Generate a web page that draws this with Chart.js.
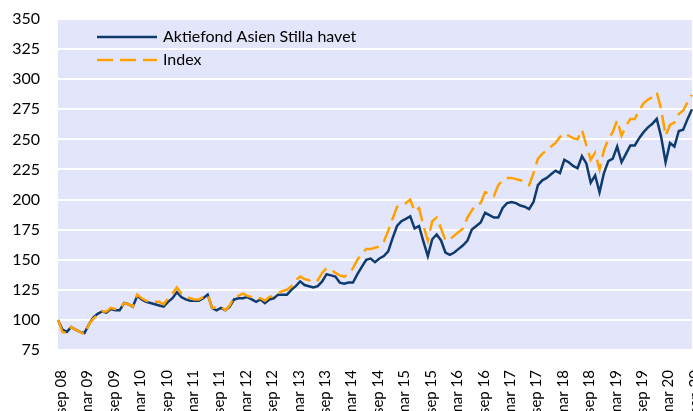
<!DOCTYPE html>
<html>
<head>
<meta charset="utf-8">
<script src="https://cdn.jsdelivr.net/npm/chart.js@4/dist/chart.umd.min.js"></script>
<style>
  body { margin: 0; background: #fff; }
  #wrap { width: 693px; height: 411px; }
</style>
</head>
<body>
<div id="wrap"><canvas id="fundChart" width="693" height="411"></canvas></div>
<script>
const monthNames = ['jan', 'feb', 'mar', 'apr', 'maj', 'jun', 'jul', 'aug', 'sep', 'okt', 'nov', 'dec'];
const firstYear = 2008;
const firstMonth = 8; // sep
const seriesNames = ['Aktiefond Asien Stilla havet', 'Index'];

const fund = [
  100, 92, 90, 94, 92, 90, 89, 96, 102, 105, 107, 106,
  109, 108, 108, 114, 113, 111, 120, 117, 115, 114, 113, 112,
  111, 115, 118, 123, 119, 117, 116, 116, 116, 118, 121, 110,
  108, 110, 108, 111, 117, 118, 118, 119, 117, 115, 117, 114,
  117, 118, 121, 121, 121, 125, 128, 132, 129, 128, 127, 128,
  132, 138, 137, 136, 131, 130, 131, 131, 138, 144, 150, 151,
  148, 151, 153, 157, 168, 178, 182, 184, 186, 176, 178, 165,
  153, 167, 171, 166, 156, 154, 156, 159, 162, 166, 175, 178,
  181, 189, 187, 185, 185, 193, 197, 198, 197, 195, 194, 192,
  198, 212, 216, 218, 221, 224, 222, 233, 231, 228, 226, 236,
  230, 214, 220, 206, 222, 232, 234, 244, 231, 238, 245, 245,
  251, 256, 260, 263, 267, 252, 231, 247, 244, 257, 258, 267,
  275
];

const index = [
  100, 90, 89, 94, 92, 90, 88, 96, 101, 104, 107, 107,
  110, 109, 109, 114, 113, 111, 121, 118, 116, 115, 115, 115,
  113, 118, 122, 127, 122, 120, 118, 117, 117, 119, 121, 110,
  110, 111, 108, 112, 119, 120, 122, 120, 119, 118, 118, 116,
  119, 120, 122, 124, 125, 128, 133, 136, 134, 133, 131, 133,
  139, 143, 142, 139, 137, 136, 138, 143, 150, 155, 159, 159,
  160, 161, 165, 174, 184, 194, 196, 197, 200, 190, 193, 178,
  166, 182, 185, 176, 166, 167, 170, 173, 176, 185, 191, 196,
  197, 206, 205, 203, 212, 216, 218, 218, 217, 216, 215, 212,
  222, 234, 238, 241, 244, 247, 252, 255, 253, 251, 250, 258,
  245, 233, 239, 225, 241, 250, 256, 266, 253, 261, 267, 267,
  274, 280, 283, 285, 289, 275, 253, 262, 264, 271, 274, 281,
  287
];

const yTicks = { min: 75, max: 350, step: 25 };

// month labels like "sep 08"
const categories = fund.map((_, i) => {
  const m = (firstMonth + i) % 12;
  const y = firstYear + Math.floor((firstMonth + i) / 12);
  return monthNames[m] + ' ' + String(y % 100).padStart(2, '0');
});

const fontFamily = 'Lato, "Open Sans", sans-serif';

const plotBackground = {
  id: 'plotBackground',
  beforeDraw(chart) {
    const { ctx, chartArea } = chart;
    ctx.save();
    ctx.fillStyle = '#E3E5FA';
    ctx.fillRect(chartArea.left, chartArea.top, chartArea.right - chartArea.left, chartArea.bottom - chartArea.top);
    ctx.restore();
  }
};

// legend sits inside the plot, top left
const innerLegend = {
  id: 'innerLegend',
  afterDraw(chart) {
    const { ctx, chartArea } = chart;
    const x0 = chartArea.left + 39;
    let y = chartArea.top + 18;
    ctx.save();
    chart.data.datasets.forEach(ds => {
      ctx.beginPath();
      ctx.strokeStyle = ds.borderColor;
      ctx.lineWidth = ds.borderWidth;
      ctx.setLineDash(ds.borderDash || []);
      ctx.moveTo(x0, y);
      ctx.lineTo(x0 + 60, y);
      ctx.stroke();
      ctx.setLineDash([]);
      ctx.fillStyle = '#000';
      ctx.font = '16px ' + fontFamily;
      ctx.textBaseline = 'middle';
      ctx.fillText(ds.label, x0 + 66, y);
      y += 23;
    });
    ctx.restore();
  }
};

const ctx = document.getElementById('fundChart').getContext('2d');
new Chart(ctx, {
  type: 'line',
  data: {
    labels: categories,
    datasets: [
      {
        label: seriesNames[0],
        data: fund,
        borderColor: '#0F3B6F',
        borderWidth: 2.5,
        pointRadius: 0,
        tension: 0,
        order: 1
      },
      {
        label: seriesNames[1],
        data: index,
        borderColor: '#FFA200',
        borderWidth: 2.5,
        borderDash: [16, 7],
        pointRadius: 0,
        tension: 0,
        order: 0
      }
    ]
  },
  options: {
    responsive: false,
    animation: false,
    layout: { padding: { top: 19, right: 1, left: 0, bottom: 0 } },
    plugins: {
      legend: { display: false },
      tooltip: { enabled: false }
    },
    scales: {
      x: {
        grid: { display: false },
        border: { display: false },
        afterFit(scale) {
          scale.height = 61;
          scale.paddingLeft = 0;
          scale.paddingRight = 0;
        },
        ticks: {
          autoSkip: false,
          minRotation: 90,
          maxRotation: 90,
          padding: 12,
          labelOffset: 3,
          color: '#000',
          font: { family: fontFamily, size: 15 },
          callback: (v, i) => (i % 6 === 0 ? categories[i] : '')
        }
      },
      y: {
        min: yTicks.min,
        max: yTicks.max,
        border: { display: false },
        afterFit(scale) {
          scale.width = 58;
          scale.paddingTop = 0;
          scale.paddingBottom = 0;
        },
        grid: { color: '#FFFFFF', lineWidth: 2, drawTicks: false },
        ticks: {
          stepSize: yTicks.step,
          padding: 18,
          color: '#000',
          font: { family: fontFamily, size: 16 }
        }
      }
    }
  },
  plugins: [plotBackground, innerLegend]
});
</script>
</body>
</html>
